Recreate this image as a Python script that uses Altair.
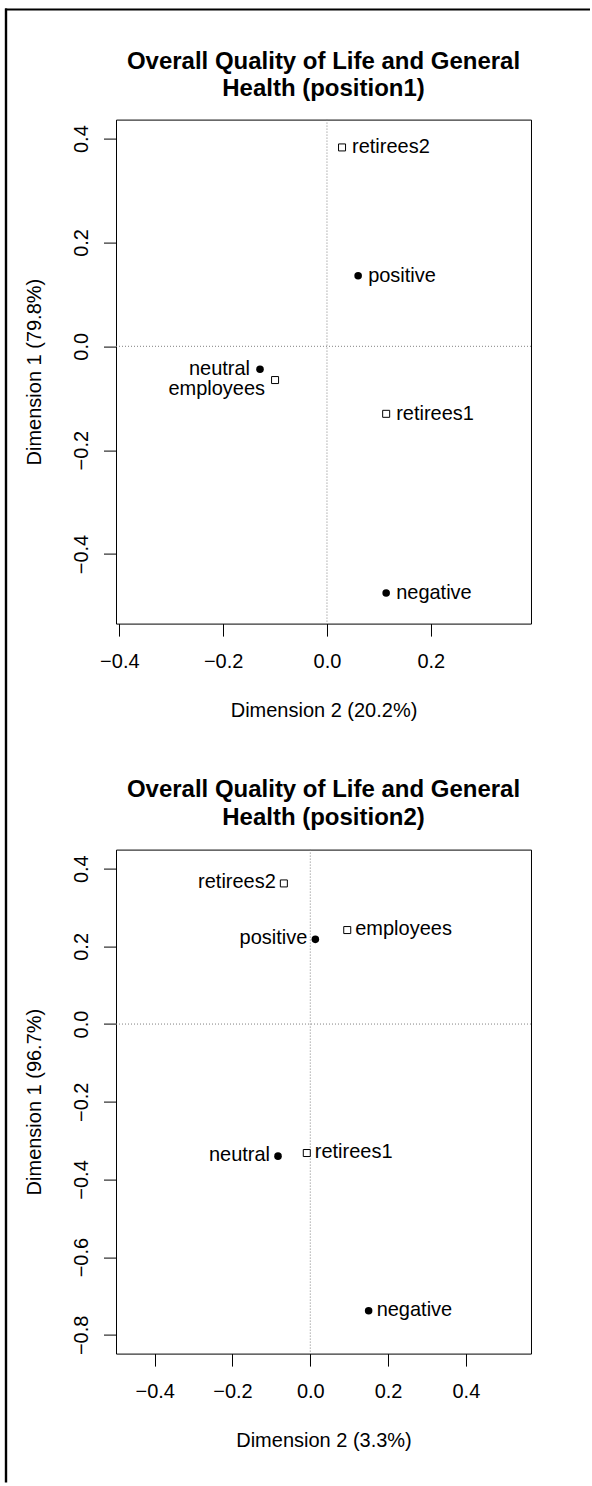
import altair as alt
import pandas as pd

FONT = "Liberation Sans"

# Category labels and their type (row categories = ratings, column categories = groups)
labels = ["positive", "neutral", "negative", "employees", "retirees1", "retirees2"]
kinds = ["row", "row", "row", "col", "col", "col"]

# Position 1 coordinates
p1_dim2 = [0.060, -0.129, 0.114, -0.100, 0.114, 0.029]
p1_dim1 = [0.136, -0.044, -0.475, -0.065, -0.130, 0.383]

# Position 2 coordinates
p2_dim2 = [0.013, -0.083, 0.150, 0.095, -0.009, -0.068]
p2_dim1 = [0.218, -0.340, -0.738, 0.242, -0.332, 0.362]

# Axis ranges and ticks
p1_xdomain = [-0.4064, 0.393]
p1_ydomain = [-0.534, 0.4366]
p1_xticks = [-0.4, -0.2, 0.0, 0.2]
p1_yticks = [-0.4, -0.2, 0.0, 0.2, 0.4]

p2_xdomain = [-0.4995, 0.5674]
p2_ydomain = [-0.8483, 0.4491]
p2_xticks = [-0.4, -0.2, 0.0, 0.2, 0.4]
p2_yticks = [-0.8, -0.6, -0.4, -0.2, 0.0, 0.2, 0.4]

W, H = 415, 504


def panel(dim2, dim1, xdom, ydom, xticks, yticks, xtitle, ytitle, title,
          left_names, gap, dy, title_offset, nudged=None, frame=False):
    df = pd.DataFrame({"label": labels, "kind": kinds, "d2": dim2, "d1": dim1})
    origin = pd.DataFrame({"d2": [0.0], "d1": [0.0]})

    xenc = alt.X(
        "d2:Q",
        scale=alt.Scale(domain=xdom, nice=False, zero=False),
        axis=alt.Axis(
            values=xticks, format=".1f", title=xtitle,
            titleX=W / 2, titleY=92.5, titleAlign="center", titleBaseline="alphabetic",
            labelBaseline="alphabetic", labelPadding=31.8, labelAlign="center",
        ),
    )
    yenc = alt.Y(
        "d1:Q",
        scale=alt.Scale(domain=ydom, nice=False, zero=False),
        axis=alt.Axis(
            values=yticks, format=".1f", title=ytitle,
            titleX=-75.5, titleY=H / 2, titleAngle=270, titleAlign="center",
            titleBaseline="alphabetic",
            labelAngle=270, labelAlign="center", labelBaseline="alphabetic",
            labelPadding=16.5,
        ),
    )

    vline = alt.Chart(origin).mark_rule(color="#808080", strokeWidth=1, strokeDash=[1, 2]).encode(x=xenc)
    hline = alt.Chart(origin).mark_rule(color="#808080", strokeWidth=1, strokeDash=[1, 2]).encode(y=yenc)

    circles = alt.Chart(df).transform_filter(alt.datum.kind == "row").mark_point(
        shape="circle", filled=True, color="black", size=57, opacity=1
    ).encode(x=xenc, y=yenc)
    squares = alt.Chart(df).transform_filter(alt.datum.kind == "col").mark_point(
        shape="square", filled=False, fill="white", stroke="black", strokeWidth=1,
        size=49, opacity=1
    ).encode(x=xenc, y=yenc)

    nudged = nudged or {}
    right_names = [n for n in labels if n not in left_names and n not in nudged]
    plain_left = [n for n in left_names if n not in nudged]

    def text_layer(names, align, dx, ddy):
        return alt.Chart(df).transform_filter(
            alt.FieldOneOfPredicate(field="label", oneOf=names)
        ).mark_text(
            align=align, baseline="alphabetic", dx=dx, dy=ddy,
            font=FONT, fontSize=20, color="black"
        ).encode(x=xenc, y=yenc, text="label:N")

    layers = [vline, hline, circles, squares,
              text_layer(right_names, "left", gap, dy),
              text_layer(plain_left, "right", -gap, dy)]
    for name, extra in nudged.items():
        layers.append(text_layer([name], "right", -gap, extra))

    if frame:
        # outer figure frame (top and left edges)
        layers.append(
            alt.Chart(origin).mark_rule(color="black", strokeWidth=2.4).encode(
                x=alt.value(-110), y=alt.value(-111), y2=alt.value(1363)
            )
        )
        layers.append(
            alt.Chart(origin).mark_rule(color="black", strokeWidth=2).encode(
                x=alt.value(-111), x2=alt.value(474), y=alt.value(-110)
            )
        )

    return alt.layer(*layers).properties(
        width=W, height=H,
        title=alt.Title(
            text=title, fontSize=24, font=FONT, fontWeight="bold", color="black",
            anchor="middle", frame="group", baseline="bottom", lineHeight=27.6,
            offset=title_offset,
        ),
    )


top = panel(p1_dim2, p1_dim1, p1_xdomain, p1_ydomain, p1_xticks, p1_yticks,
            "Dimension 2 (20.2%)", "Dimension 1 (79.8%)",
            ["Overall Quality of Life and General", "Health (position1)"],
            left_names=["neutral", "employees"], gap=10, dy=6, title_offset=-118.0,
            nudged={"employees": 15}, frame=True)

bottom = panel(p2_dim2, p2_dim1, p2_xdomain, p2_ydomain, p2_xticks, p2_yticks,
               "Dimension 2 (3.3%)", "Dimension 1 (96.7%)",
               ["Overall Quality of Life and General", "Health (position2)"],
               left_names=["retirees2", "positive", "neutral"], gap=8, dy=5,
               title_offset=-4.6)

chart = alt.vconcat(top, bottom, spacing=226, bounds="flush").properties(
    padding={"left": 3, "top": 6.6, "right": 0, "bottom": 0},
    background="white",
).configure_view(
    stroke="black", strokeWidth=1
).configure_axis(
    domain=False, grid=False, ticks=True, tickColor="black", tickWidth=1, tickSize=12.5,
    labelFont=FONT, labelFontSize=20, labelColor="black",
    titleFont=FONT, titleFontSize=20, titleColor="black", titleFontWeight="normal",
    labelFlush=False, labelOverlap=False, labelBound=False,
)

chart.save("out.html", embed_options={"renderer": "svg", "actions": False})
